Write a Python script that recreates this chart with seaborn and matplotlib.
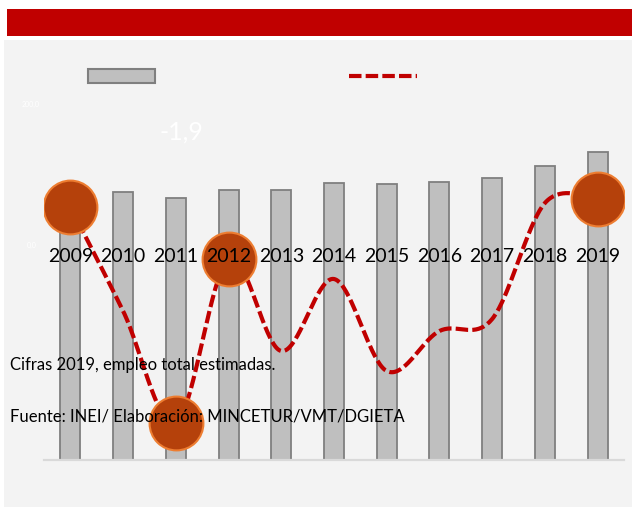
import numpy as np
import pandas as pd
import matplotlib
matplotlib.use("Agg")
import matplotlib.pyplot as plt
import matplotlib.transforms as mtrans
from matplotlib.patches import Rectangle
from matplotlib.lines import Line2D
import seaborn as sns

# ---- data ----
years = ["2009", "2010", "2011", "2012", "2013", "2014", "2015", "2016", "2017", "2018", "2019"]
empleo = [1020, 1072, 1048, 1080, 1080, 1108, 1104, 1112, 1128, 1176, 1232]
variacion = [3.5, 0.9, -1.9, 2.2, -0.1, 1.7, -0.6, 0.4, 0.7, 3.6, 3.7]
destacados = ["2009", "2011", "2012", "2019"]
etiqueta_min = "-1,9"
eje_labels = ["200,0", "0,0"]
nota1 = "Cifras 2019, empleo total estimadas."
nota2 = "Fuente: INEI/ Elaboración: MINCETUR/VMT/DGIETA"

W, H = 632, 513
sns.set_theme(style="white")
plt.rcParams['font.family'] = ['Lato', 'DejaVu Sans']

fig = plt.figure(figsize=(W / 100, H / 100), dpi=100)
fig.patch.set_facecolor("white")

def fx(px):
    return px / W

def fy(py):
    return 1 - py / H

# background panel and red banner
fig.add_artist(Rectangle((fx(4), fy(507)), fx(632 - 4), (507 - 40) / H, transform=fig.transFigure,
                         facecolor="#f3f3f3", edgecolor="none", zorder=-10))
fig.add_artist(Rectangle((fx(7), fy(36)), fx(632 - 7), (36 - 9) / H, transform=fig.transFigure,
                         facecolor="#c00000", edgecolor="none", zorder=-9))

# axes
ax = fig.add_axes([fx(44), fy(460), fx(580), 360 / H])
ax.patch.set_visible(False)
df = pd.DataFrame({"year": years, "empleo": empleo, "var": variacion, "pos": np.arange(len(years))})

sns.barplot(data=df, x="year", y="empleo", ax=ax, color="#bfbfbf", width=0.38,
            edgecolor="#7f7f7f", linewidth=1.3, saturation=1)
ax.set_xlim(-0.5, 10.5)
ax.set_ylim(0, 1440)
for s in ["top", "right", "left"]:
    ax.spines[s].set_visible(False)
ax.spines["bottom"].set_color("#d9d9d9")
ax.spines["bottom"].set_linewidth(1.6)
ax.set_xticks([])
ax.set_yticks([])
ax.set_xlabel("")
ax.set_ylabel("")

ax2 = ax.twinx()
ax2.patch.set_visible(False)
ax2.set_ylim(-2.825, 6.175)
for s in ax2.spines.values():
    s.set_visible(False)
ax2.set_yticks([])
ax2.set_ylabel("")

# smooth (Excel-like) rendering of the line through the data points
def smooth(xs, ys, n=40):
    xs = np.asarray(xs, float)
    ys = np.asarray(ys, float)
    P = np.column_stack([xs, ys])
    P = np.vstack([P[0], P, P[-1]])
    out = []
    for i in range(1, len(P) - 2):
        p0, p1, p2, p3 = P[i - 1], P[i], P[i + 1], P[i + 2]
        c1 = p1 + (p2 - p0) / 6
        c2 = p2 - (p3 - p1) / 6
        t = np.linspace(0, 1, n)[:, None]
        b = (1 - t) ** 3 * p1 + 3 * (1 - t) ** 2 * t * c1 + 3 * (1 - t) * t ** 2 * c2 + t ** 3 * p2
        out.append(b if i == 1 else b[1:])
    return np.vstack(out)

curve = smooth(df["pos"], df["var"])
ax2.plot(curve[:, 0], curve[:, 1], color="#c00000", lw=3, linestyle=(0, (3, 1)),
         dash_capstyle="butt", zorder=3)

dd = df[df["year"].isin(destacados)]
sns.scatterplot(data=dd, x="pos", y="var", ax=ax2, s=1500, color="#b5410b",
                edgecolor="#ed7d31", linewidth=1.5, zorder=5, legend=False)
ax2.set_xlim(-0.5, 10.5)
ax2.set_xlabel("")
ax2.set_xticks([])

# year labels (over circles)
tr = mtrans.blended_transform_factory(ax2.transData, fig.transFigure)
for i, y in enumerate(years):
    ax2.text(i, fy(256), y, transform=tr, ha="center", va="center", fontsize=14,
             color="black", zorder=10)

# legend marks (no visible labels)
fig.add_artist(Rectangle((fx(88), fy(83)), fx(67), 14 / H, transform=fig.transFigure,
                         facecolor="#bfbfbf", edgecolor="#7f7f7f", linewidth=1.5, zorder=4))
fig.add_artist(Line2D([fx(349), fx(417)], [fy(76), fy(76)], transform=fig.transFigure,
                      color="#c00000", lw=3, linestyle=(0, (3, 1)), zorder=4))

# faint white texts
fig.text(fx(181), fy(132), etiqueta_min, color="white", fontsize=18, ha="center", va="center")
fig.text(fx(31), fy(104), eje_labels[0], color="white", fontsize=5, ha="center", va="center")
fig.text(fx(32), fy(245), eje_labels[1], color="white", fontsize=5, ha="center", va="center")

# notes
fig.text(fx(10), fy(365), nota1, fontsize=12, ha="left", va="center", color="black", zorder=12)
fig.text(fx(10), fy(416), nota2, fontsize=12, ha="left", va="center", color="black", zorder=12)

fig.savefig("out.png", dpi=100)
